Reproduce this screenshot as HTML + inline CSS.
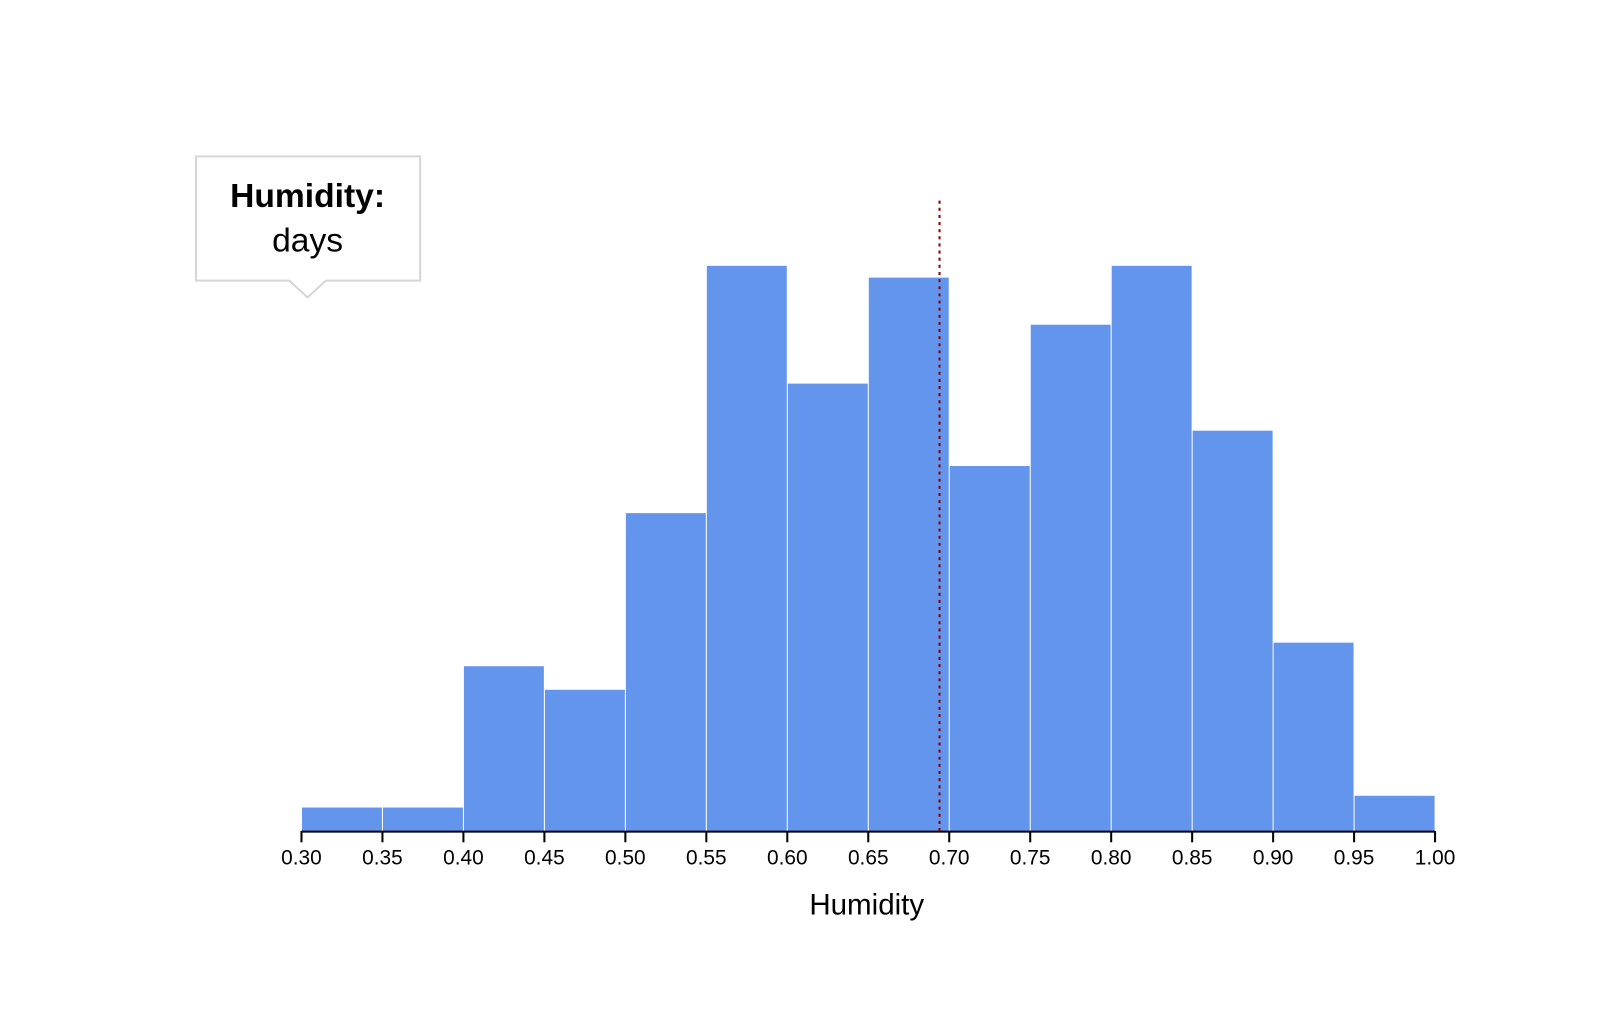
<!DOCTYPE html>
<html><head><meta charset="utf-8"><style>
body{margin:0;background:#fff;}
svg{display:block;font-family:"Liberation Sans",sans-serif;}
</style></head><body>
<svg id="chart" width="1597" height="1025" viewBox="0 0 1597 1025">
<g transform="scale(1.0185)">
<g id="bars"></g>
<g id="axis"></g>
<line id="mean" stroke="#8b0000" stroke-width="2" stroke-dasharray="3,4"></line>
<text x="851" y="898" font-size="29" text-anchor="middle">Humidity</text>
<g>
<path d="M192.5,153.5 H412.5 V275.5 H320 L302,292 L284,275.5 H192.5 Z" fill="#fff" stroke="#d6d6d6" stroke-width="2"/>
<text x="302" y="203" font-size="33" font-weight="bold" text-anchor="middle">Humidity:</text>
<text x="302" y="247" font-size="33" text-anchor="middle">days</text>
</g>
</g>
</svg>
<script>
const binStarts = [0.30,0.35,0.40,0.45,0.50,0.55,0.60,0.65,0.70,0.75,0.80,0.85,0.90,0.95];
const counts = [2,2,14,12,27,48,38,47,31,43,48,34,16,3];
const tickLabels = ["0.30","0.35","0.40","0.45","0.50","0.55","0.60","0.65","0.70","0.75","0.80","0.85","0.90","0.95","1.00"];
const meanValue = 0.694;
const binWidth = 0.05;

const NS="http://www.w3.org/2000/svg";
const x0=296,x1=1409,base=816,yTop=261,yMax=48;
const xs=v=>x0+(v-0.30)/(1.00-0.30)*(x1-x0);
const ys=c=>base-c/yMax*(base-yTop);
const bars=document.getElementById('bars');
binStarts.forEach((b,i)=>{
  const r=document.createElementNS(NS,'rect');
  const xa=xs(b),xb=xs(b+binWidth);
  r.setAttribute('x',xa+0.5);r.setAttribute('y',ys(counts[i]));
  r.setAttribute('width',xb-xa-1);r.setAttribute('height',base-ys(counts[i]));
  r.setAttribute('fill','#6495ED');
  
  
  bars.appendChild(r);
});
const axis=document.getElementById('axis');
const al=document.createElementNS(NS,'line');
al.setAttribute('x1',x0);al.setAttribute('x2',x1);al.setAttribute('y1',base+0.5);al.setAttribute('y2',base+0.5);
al.setAttribute('stroke','#000');al.setAttribute('stroke-width','2');


axis.appendChild(al);
tickLabels.forEach(t=>{
  const x=xs(parseFloat(t));
  const l=document.createElementNS(NS,'line');
  l.setAttribute('x1',x);l.setAttribute('x2',x);l.setAttribute('y1',base);l.setAttribute('y2',base+11);
  l.setAttribute('stroke','#000');l.setAttribute('stroke-width','2');
  
  
  axis.appendChild(l);
  const tx=document.createElementNS(NS,'text');
  tx.setAttribute('x',x);tx.setAttribute('y',849);tx.setAttribute('font-size','20.5');tx.setAttribute('text-anchor','middle');
  tx.textContent=t;
  
  
  axis.appendChild(tx);
});
const m=document.getElementById('mean');
m.setAttribute('x1',xs(meanValue));m.setAttribute('x2',xs(meanValue));
m.setAttribute('y1',197);m.setAttribute('y2',base);
</script>
</body></html>
